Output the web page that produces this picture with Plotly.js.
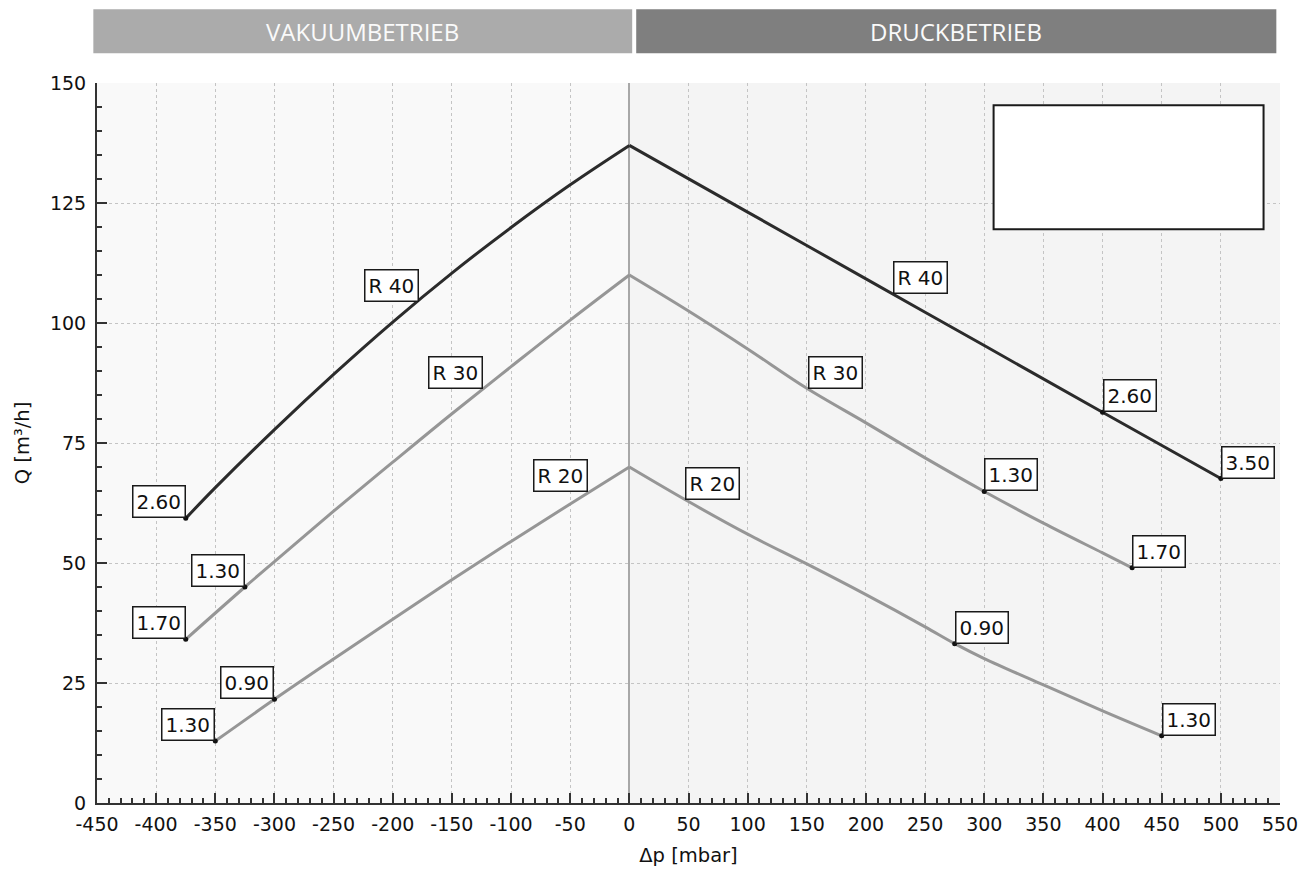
<!DOCTYPE html>
<html>
<head>
<meta charset="utf-8">
<script src="https://cdn.plot.ly/plotly-3.0.1.min.js"></script>
<style>
  html, body { margin: 0; padding: 0; background: #ffffff; }
  #chart { width: 1315px; height: 871px; }
</style>
</head>
<body>
<div id="chart"></div>
<script>
// ---- data ----
const xRange = [-450, 550];
const yRange = [0, 150];

const xTickVals = [-450, -400, -350, -300, -250, -200, -150, -100, -50, 0, 50, 100, 150, 200, 250, 300, 350, 400, 450, 500, 550];
const xTickText = ['-450', '-400', '-350', '-300', '-250', '-200', '-150', '-100', '-50', '0', '50', '100', '150', '200', '250', '300', '350', '400', '450', '500', '550'];
const yTickVals = [0, 25, 50, 75, 100, 125, 150];
const yTickText = ['0', '25', '50', '75', '100', '125', '150'];

const r40X = [-375, -350, -300, -250, -200, -150, -100, -50, 0, 100, 200, 300, 400, 500];
const r40Q = [59.3, 65.7, 77.8, 89.3, 100.2, 110.4, 119.9, 128.8, 137, 123.1, 109.2, 95.3, 81.4, 67.6];

const r30X = [-375, -325, -300, -250, -200, -150, -100, -50, 0, 50, 100, 150, 200, 250, 300, 350, 400, 425];
const r30Q = [34.1, 45.0, 50.3, 60.8, 71.0, 81.1, 90.9, 100.6, 110, 102.5, 94.6, 86.4, 79.2, 71.9, 64.9, 58.3, 52.1, 49.0];

const r20X = [-350, -300, -250, -200, -150, -100, -50, 0, 50, 100, 150, 200, 250, 275, 300, 350, 400, 450];
const r20Q = [12.9, 21.6, 30.0, 38.3, 46.5, 54.5, 62.3, 70, 62.8, 56.0, 49.8, 43.4, 36.7, 33.2, 30.1, 24.6, 19.2, 14.0];

const markX = [-375, 400, 500, -375, -325, 300, 425, -350, -300, 275, 450];
const markQ = [59.3, 81.4, 67.6, 34.1, 45.0, 64.9, 49.0, 12.9, 21.6, 33.2, 14.0];
const markText = ['2.60', '2.60', '3.50', '1.70', '1.30', '1.30', '1.70', '1.30', '0.90', '0.90', '1.30'];

const curveLabelText = ['R 40', 'R 40', 'R 30', 'R 30', 'R 20', 'R 20'];
const curveLabelX = [-178, 223, -124, 151, -35, 47];
const curveLabelQ = [104.3, 106.0, 86.3, 86.2, 64.7, 63.2];

const bannerText = ['VAKUUMBETRIEB', 'DRUCKBETRIEB'];

// ---- styles ----
const FONT = 'DejaVu Sans, Verdana, sans-serif';
const dark = '#2b2b2b';
const grey = '#969696';

function sideTrace(xs, qs, left, color) {
  const x = [], y = [];
  xs.forEach((v, i) => { if (left ? v <= 0 : v >= 0) { x.push(v); y.push(qs[i]); } });
  return { x: x, y: y, mode: 'lines', line: { color: color, width: 3, shape: 'spline', smoothing: 1 }, hoverinfo: 'skip' };
}

const traces = [
  sideTrace(r20X, r20Q, true, grey), sideTrace(r20X, r20Q, false, grey),
  sideTrace(r30X, r30Q, true, grey), sideTrace(r30X, r30Q, false, grey),
  sideTrace(r40X, r40Q, true, dark), sideTrace(r40X, r40Q, false, dark),
  { x: markX, y: markQ, mode: 'markers', marker: { color: '#111', size: 5 }, hoverinfo: 'skip' }
];

const annotations = [];
function boxLabel(x, y, text) {
  annotations.push({
    x: x, y: y, xref: 'x', yref: 'y', text: text, showarrow: false,
    xanchor: x < 0 ? 'right' : 'left', yanchor: 'bottom',
    font: { family: FONT, size: 20, color: '#111' },
    bgcolor: '#ffffff', bordercolor: '#1a1a1a', borderwidth: 1.5, borderpad: 3
  });
}
markX.forEach((x, i) => boxLabel(x, markQ[i], markText[i]));
curveLabelX.forEach((x, i) => boxLabel(x, curveLabelQ[i], curveLabelText[i]));

// banners (paper coords)
const bannerY0 = 1.0413, bannerY1 = 1.1024;
[0.2247, 0.7263].forEach((cx, i) => annotations.push({
  x: cx, y: (bannerY0 + bannerY1) / 2, xref: 'paper', yref: 'paper', text: bannerText[i],
  showarrow: false, xanchor: 'center', yanchor: 'middle',
  font: { family: 'Open Sans, sans-serif', size: 24, color: '#fafafa' }
}));

const shapes = [
  { type: 'rect', xref: 'x', yref: 'paper', x0: xRange[0], x1: 0, y0: 0, y1: 1,
    fillcolor: '#f9f9f9', line: { width: 0 }, layer: 'below' },
  { type: 'rect', xref: 'x', yref: 'paper', x0: 0, x1: xRange[1], y0: 0, y1: 1,
    fillcolor: '#f4f4f4', line: { width: 0 }, layer: 'below' },
  { type: 'rect', xref: 'paper', yref: 'paper', x0: -0.0031, x1: 0.4524, y0: bannerY0, y1: bannerY1,
    fillcolor: '#ababab', line: { width: 0 } },
  { type: 'rect', xref: 'paper', yref: 'paper', x0: 0.4558, x1: 0.9969, y0: bannerY0, y1: bannerY1,
    fillcolor: '#7f7f7f', line: { width: 0 } },
  { type: 'rect', xref: 'paper', yref: 'paper', x0: 0.7579, x1: 0.9861, y0: 0.7968, y1: 0.969,
    fillcolor: '#ffffff', line: { color: '#1a1a1a', width: 2 }, layer: 'above' }
];

const axisCommon = {
  showline: true, linecolor: '#333', linewidth: 2,
  ticks: 'inside', ticklen: 10, tickwidth: 2, tickcolor: '#333',
  showgrid: true, gridcolor: '#c4c4c4', gridwidth: 1, griddash: 'dot',
  tickfont: { family: FONT, size: 19, color: '#111' },
  fixedrange: true, tickmode: 'array'
};

const layout = {
  width: 1315, height: 871,
  margin: { l: 97, r: 35, t: 83, b: 68, autoexpand: false },
  paper_bgcolor: '#ffffff',
  plot_bgcolor: '#f6f6f6',
  showlegend: false,
  xaxis: Object.assign({}, axisCommon, {
    range: xRange, tickvals: xTickVals, ticktext: xTickText,
    zeroline: true, zerolinecolor: '#a8a8a8', zerolinewidth: 2,
    minor: { tickmode: 'linear', tick0: 0, dtick: 10, ticks: 'inside', ticklen: 5, tickwidth: 2, tickcolor: '#333', showgrid: false },
    ticklabelstandoff: 3,
    title: { text: 'Δp [mbar]', font: { family: FONT, size: 19.5, color: '#111' }, standoff: 15 }
  }),
  yaxis: Object.assign({}, axisCommon, {
    range: yRange, tickvals: yTickVals, ticktext: yTickText, zeroline: false,
    minor: { tickmode: 'linear', tick0: 0, dtick: 5, ticks: 'inside', ticklen: 5, tickwidth: 2, tickcolor: '#333', showgrid: false },
    ticklabelstandoff: 5,
    title: { text: 'Q [m³/h]', font: { family: FONT, size: 19.5, color: '#111' }, standoff: 15 }
  }),
  shapes: shapes,
  annotations: annotations
};

Plotly.newPlot('chart', traces, layout, { displayModeBar: false, staticPlot: true });
</script>
</body>
</html>
